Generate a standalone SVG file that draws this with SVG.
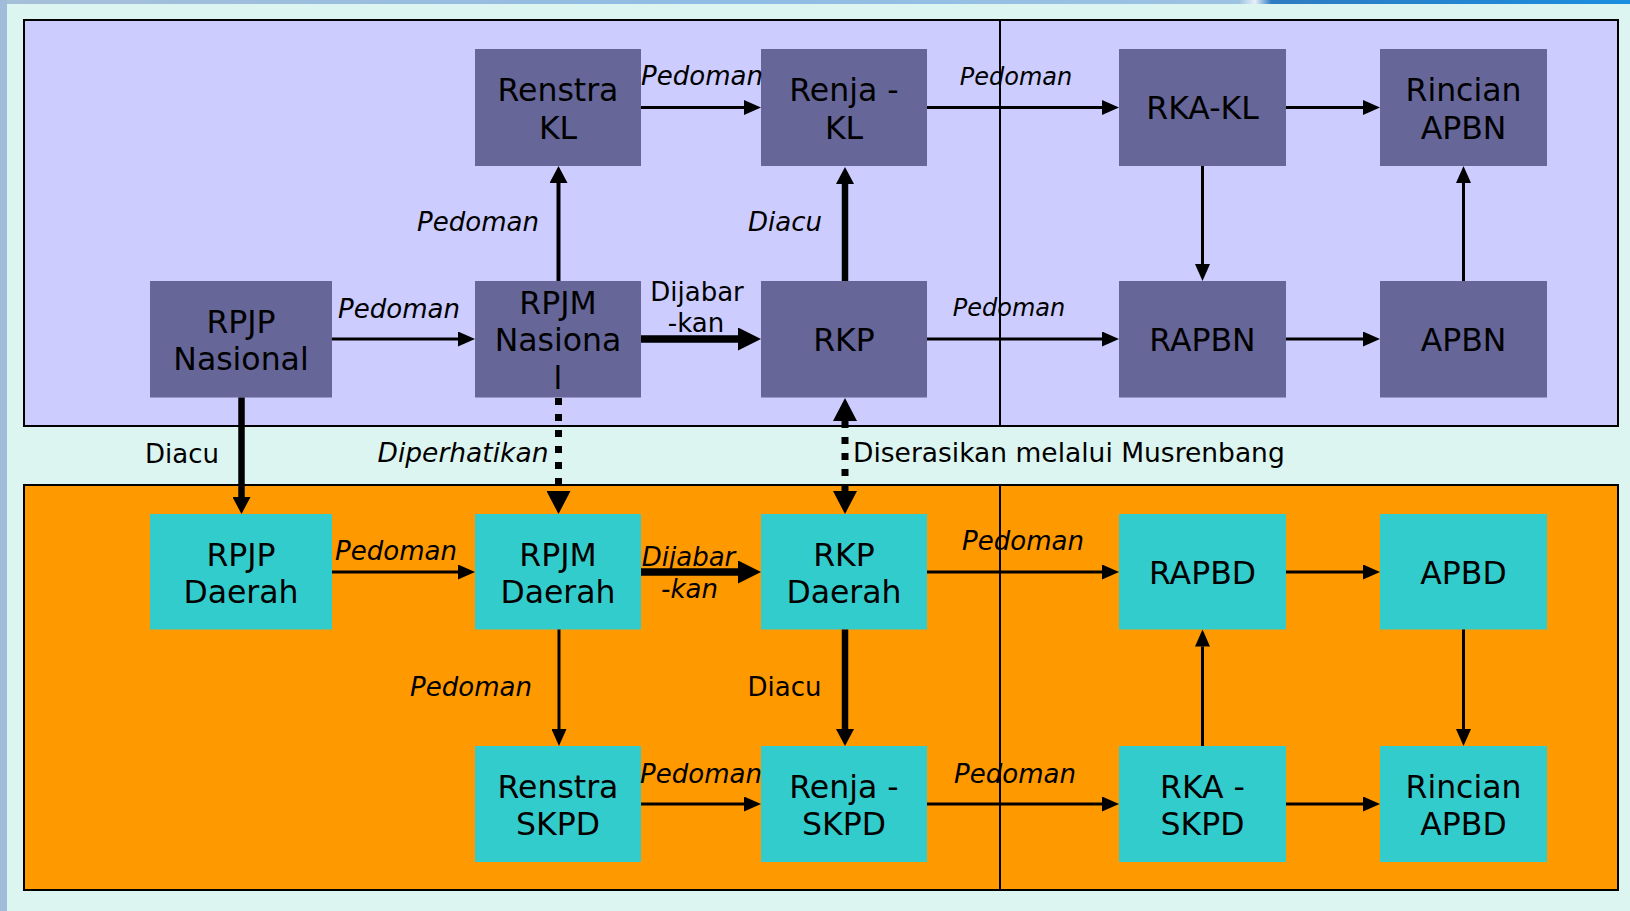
<svg xmlns="http://www.w3.org/2000/svg" width="1630" height="911" viewBox="0 0 1630 911">
<style>
.nt{font-family:"DejaVu Sans",Verdana,sans-serif;font-size:31.5px;fill:#000;text-anchor:middle}
.lb{font-family:"DejaVu Sans",Verdana,sans-serif;font-size:26px;fill:#000;text-anchor:middle}
.it{font-style:italic}
.sm{font-size:24px}
.lg{font-size:26.5px}
.nb{fill:#666699}
.nc{fill:#33CCCC}
.c{fill:none;stroke:#000}
.t{stroke-width:3;marker-end:url(#ah)}
.m{stroke-width:4;marker-end:url(#am)}
.k{stroke-width:6.5;marker-end:url(#am)}
.b{stroke-width:7.5;marker-end:url(#ab)}
.d{stroke-width:7;stroke-dasharray:7 9;marker-end:url(#ad)}
</style>
<defs>
<linearGradient id="tg" x1="0" y1="0" x2="1" y2="0">
<stop offset="0" stop-color="#A6BFD9"/>
<stop offset="0.45" stop-color="#8FBCE4"/>
<stop offset="0.76" stop-color="#9CC2E2"/>
<stop offset="0.77" stop-color="#E8F0F8"/>
<stop offset="0.78" stop-color="#2E7CC2"/>
<stop offset="1" stop-color="#1A8EE0"/>
</linearGradient>
<marker id="ah" markerUnits="userSpaceOnUse" markerWidth="17" markerHeight="15" refX="0" refY="7.5" orient="auto"><path d="M0,0 L17,7.5 L0,15 Z" fill="#000"/></marker>
<marker id="am" markerUnits="userSpaceOnUse" markerWidth="17" markerHeight="18" refX="0" refY="9" orient="auto"><path d="M0,0 L17,9 L0,18 Z" fill="#000"/></marker>
<marker id="ab" markerUnits="userSpaceOnUse" markerWidth="23" markerHeight="23" refX="0" refY="11.5" orient="auto"><path d="M0,0 L23,11.5 L0,23 Z" fill="#000"/></marker>
<marker id="ad" markerUnits="userSpaceOnUse" markerWidth="23" markerHeight="24" refX="0" refY="12" orient="auto-start-reverse"><path d="M0,0 L23,12 L0,24 Z" fill="#000"/></marker>
</defs>
<rect x="0" y="0" width="1630" height="911" fill="#DCF5F0"/>
<rect x="0" y="0" width="1630" height="4" fill="url(#tg)"/>
<rect x="0" y="0" width="7" height="911" fill="#A0BCD8"/>
<g id="panels">
<rect x="24" y="20" width="1594" height="406" fill="#CCCCFF" stroke="#000" stroke-width="2"/>
<rect x="24" y="485" width="1594" height="405" fill="#FF9900" stroke="#000" stroke-width="2"/>
</g>
<g id="n-renstra-kl"><rect class="nb" x="475" y="49" width="166" height="117"/><text class="nt" x="558" y="101">Renstra</text><text class="nt" x="558" y="138.5">KL</text></g>
<g id="n-renja-kl"><rect class="nb" x="761" y="49" width="166" height="117"/><text class="nt" x="844" y="101">Renja -</text><text class="nt" x="844" y="138.5">KL</text></g>
<g id="n-rka-kl"><rect class="nb" x="1119" y="49" width="167" height="117"/><text class="nt" x="1202.5" y="119">RKA-KL</text></g>
<g id="n-rincian-apbn"><rect class="nb" x="1380" y="49" width="167" height="117"/><text class="nt" x="1463.5" y="101">Rincian</text><text class="nt" x="1463.5" y="138.5">APBN</text></g>
<g id="n-rpjp-nas"><rect class="nb" x="150" y="281" width="182" height="116.5"/><text class="nt" x="241" y="332.5">RPJP</text><text class="nt" x="241" y="370">Nasional</text></g>
<g id="n-rpjm-nas"><rect class="nb" x="475" y="281" width="166" height="116.5"/><text class="nt" x="558" y="313.5">RPJM</text><text class="nt" x="558" y="351">Nasiona</text><text class="nt" x="558" y="388.5">l</text></g>
<g id="n-rkp"><rect class="nb" x="761" y="281" width="166" height="116.5"/><text class="nt" x="844" y="350.5">RKP</text></g>
<g id="n-rapbn"><rect class="nb" x="1119" y="281" width="167" height="116.5"/><text class="nt" x="1202.5" y="350.5">RAPBN</text></g>
<g id="n-apbn"><rect class="nb" x="1380" y="281" width="167" height="116.5"/><text class="nt" x="1463.5" y="350.5">APBN</text></g>
<g id="n-rpjp-daerah"><rect class="nc" x="150" y="514" width="182" height="115.5"/><text class="nt" x="241" y="565.5">RPJP</text><text class="nt" x="241" y="603">Daerah</text></g>
<g id="n-rpjm-daerah"><rect class="nc" x="475" y="514" width="166" height="115.5"/><text class="nt" x="558" y="565.5">RPJM</text><text class="nt" x="558" y="603">Daerah</text></g>
<g id="n-rkp-daerah"><rect class="nc" x="761" y="514" width="166" height="115.5"/><text class="nt" x="844" y="565.5">RKP</text><text class="nt" x="844" y="603">Daerah</text></g>
<g id="n-rapbd"><rect class="nc" x="1119" y="514" width="167" height="115.5"/><text class="nt" x="1202.5" y="583.5">RAPBD</text></g>
<g id="n-apbd"><rect class="nc" x="1380" y="514" width="167" height="115.5"/><text class="nt" x="1463.5" y="583.5">APBD</text></g>
<g id="n-renstra-skpd"><rect class="nc" x="475" y="746" width="166" height="116"/><text class="nt" x="558" y="797.5">Renstra</text><text class="nt" x="558" y="835">SKPD</text></g>
<g id="n-renja-skpd"><rect class="nc" x="761" y="746" width="166" height="116"/><text class="nt" x="844" y="797.5">Renja -</text><text class="nt" x="844" y="835">SKPD</text></g>
<g id="n-rka-skpd"><rect class="nc" x="1119" y="746" width="167" height="116"/><text class="nt" x="1202.5" y="797.5">RKA -</text><text class="nt" x="1202.5" y="835">SKPD</text></g>
<g id="n-rincian-apbd"><rect class="nc" x="1380" y="746" width="167" height="116"/><text class="nt" x="1463.5" y="797.5">Rincian</text><text class="nt" x="1463.5" y="835">APBD</text></g>
<g id="connectors">
<path class="c t" d="M641,107.5 H744"/>
<path class="c t" d="M927,107.5 H1102"/>
<path class="c t" d="M1286,107.5 H1363"/>
<path class="c t" d="M1202.5,166 V264"/>
<path class="c t" d="M1463.5,281 V183"/>
<path class="c t" d="M1286,339 H1363"/>
<path class="c t" d="M927,339 H1102"/>
<path class="c t" d="M332,339 H458"/>
<path class="c b" d="M641,339 H738"/>
<path class="c m" d="M558.5,281 V183"/>
<path class="c k" d="M845,281 V184"/>
<path class="c k" d="M241.5,397.5 V497"/>
<path class="c d" d="M558.5,398 V491"/>
<path class="c d" d="M845,421 V491" marker-start="url(#ad)"/>
<path class="c t" d="M332,572 H458"/>
<path class="c b" d="M641,572 H738"/>
<path class="c t" d="M927,572 H1102"/>
<path class="c t" d="M1286,572 H1363"/>
<path class="c t" d="M1463.5,629.5 V729"/>
<path class="c t" d="M1202.5,746 V646.5"/>
<path class="c t" d="M1286,804 H1363"/>
<path class="c t" d="M927,804 H1102"/>
<path class="c t" d="M641,804 H744"/>
<path class="c t" d="M559,629.5 V729"/>
<path class="c k" d="M845,629.5 V729"/>
</g>
<g id="dividers">
<line x1="1000" y1="20" x2="1000" y2="426" stroke="#000" stroke-width="2"/>
<line x1="1000" y1="485" x2="1000" y2="890" stroke="#000" stroke-width="2"/>
</g>
<g id="labels">
<text class="lb it" x="702" y="85">Pedoman</text>
<text class="lb it sm" x="1016" y="85">Pedoman</text>
<text class="lb it" x="478" y="230.5">Pedoman</text>
<text class="lb it" x="785" y="230.5">Diacu</text>
<text class="lb it" x="399" y="317.5">Pedoman</text>
<text class="lb" x="697" y="301">Dijabar</text>
<text class="lb" x="696" y="332">-kan</text>
<text class="lb it sm" x="1009" y="316">Pedoman</text>
<text class="lb" x="182" y="462.5">Diacu</text>
<text class="lb it lg" x="463" y="462">Diperhatikan</text>
<text class="lb lg" x="853" y="462" style="text-anchor:start">Diserasikan melalui Musrenbang</text>
<text class="lb it" x="396" y="560">Pedoman</text>
<text class="lb it" x="688.5" y="566">Dijabar</text>
<text class="lb it" x="689.5" y="598">-kan</text>
<text class="lb it" x="1023" y="550">Pedoman</text>
<text class="lb it" x="471" y="696">Pedoman</text>
<text class="lb" x="784.5" y="696">Diacu</text>
<text class="lb it" x="701" y="783">Pedoman</text>
<text class="lb it" x="1015" y="783">Pedoman</text>
</g>
</svg>
